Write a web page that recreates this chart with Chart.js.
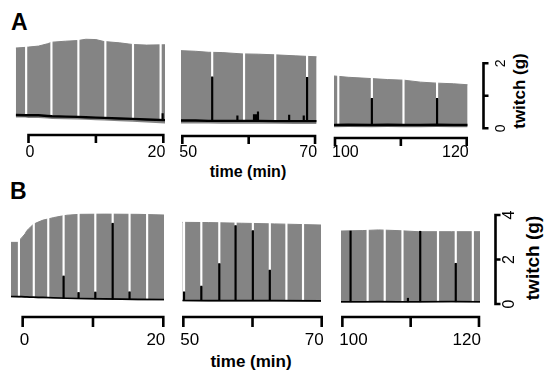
<!DOCTYPE html>
<html>
<head>
<meta charset="utf-8">
<script src="https://cdn.jsdelivr.net/npm/chart.js@4.4.1/dist/chart.umd.min.js"></script>
<style>
  body { margin: 0; background: #fff; }
  #fig { position: relative; width: 550px; height: 381px; overflow: hidden;
         font-family: "Liberation Sans", Arial, sans-serif; color: #000; }
  #fig canvas { position: absolute; left: 0; top: 0; }
  .txt { position: absolute; line-height: 1; white-space: nowrap; font-weight: bold; }
  .rot { transform: translate(-50%, -50%) rotate(-90deg); }
</style>
</head>
<body>
<div id="fig">
  <div class="txt" style="left:11px; top:11px; font-size:23px;">A</div>
  <div class="txt" style="left:10px; top:180px; font-size:23px;">B</div>
  <div class="txt" style="left:148px; top:164px; width:200px; text-align:center; font-size:16px;">time (min)</div>
  <div class="txt" style="left:151px; top:353px; width:200px; text-align:center; font-size:17px;">time (min)</div>
  <div class="txt rot" style="left:519px; top:91px; font-size:17px;">twitch (g)</div>
  <div class="txt rot" style="left:532px; top:258px; font-size:19px;">twitch (g)</div>
</div>
<script>
const GRAY = '#848484';

// panel A: twitch envelope (g) against time (min), three recording windows
const aTime = [-1.9, -0.5, 0, 1.5, 2.8, 3.5, 5.5, 7.3, 8.5, 10, 11.2, 13.5, 15.4, 17.5, 20.25,
               49.8, 52, 53.9, 56, 59, 61.5, 64, 67, 70.25,
               99.85, 102, 105.5, 108, 110.5, 113, 115.5, 118, 120.15];
const aPeak = [2.47, 2.49, 2.50, 2.53, 2.60, 2.65, 2.68, 2.70, 2.74, 2.73, 2.67, 2.63, 2.58, 2.56, 2.57,
               2.39, 2.37, 2.34, 2.33, 2.29, 2.28, 2.26, 2.23, 2.20,
               1.61, 1.57, 1.53, 1.50, 1.48, 1.42, 1.39, 1.37, 1.34];
const aBase = [0.41, 0.40, 0.40, 0.40, 0.38, 0.37, 0.36, 0.35, 0.34, 0.33, 0.32, 0.30, 0.29, 0.27, 0.25,
               0.24, 0.24, 0.23, 0.23, 0.23, 0.23, 0.22, 0.22, 0.22,
               0.10, 0.11, 0.10, 0.11, 0.10, 0.10, 0.11, 0.10, 0.10];
const aLow = [0.33, 0.33, 0.32, 0.32, 0.30, 0.29, 0.28, 0.27, 0.26, 0.25, 0.24, 0.22, 0.20, 0.18, 0.15,
              0.15, 0.15, 0.15, 0.14, 0.14, 0.14, 0.14, 0.13, 0.13,
              0.03, 0.04, 0.03, 0.04, 0.03, 0.03, 0.04, 0.03, 0.03];
// pauses between sweeps (white) and single traces standing out (black)
const aGapTime = [-0.35, 3.4, 7.4, 11.4, 15.5, 19.6, 54.5, 59.3, 64.0, 68.8, 100.5, 105.6, 110.4, 115.5];
const aGapFrom = [0.41, 0.40, 0.35, 0.32, 0.29, 0.26, 1.58, 0.23, 0.22, 1.57, 0.10, 0.92, 0.10, 0.92];
const aMarkTime = [19.9, 54.5, 58.3, 60.8, 61.1, 61.4, 66.1, 68.3, 68.8, 105.6, 115.5];
const aMarkFrom = [0.26, 0.23, 0.23, 0.23, 0.23, 0.23, 0.22, 0.22, 0.22, 0.10, 0.10];
const aMarkTo = [0.45, 1.58, 0.38, 0.42, 0.42, 0.51, 0.41, 0.38, 1.57, 0.92, 0.92];

// panel B
const bTime = [-1.66, -0.55, -0.45, -0.15, 0.33, 0.6, 1.0, 1.5, 2.2, 2.9, 3.6, 4.35, 5.5, 6.3, 8.1, 11.7, 16.4, 20.1,
               49.85, 53.6, 58.4, 63.2, 69.9,
               99.8, 103, 105.3, 108, 111.1, 116, 120.15];
const bPeak = [2.77, 2.77, 2.88, 2.97, 3.15, 3.30, 3.42, 3.58, 3.68, 3.77, 3.82, 3.88, 3.95, 3.99, 4.03, 4.04, 4.03, 4.00,
               3.67, 3.66, 3.63, 3.60, 3.55,
               3.28, 3.30, 3.33, 3.30, 3.25, 3.25, 3.25];
const bBase = [0.34, 0.33, 0.33, 0.33, 0.32, 0.32, 0.31, 0.31, 0.30, 0.30, 0.29, 0.28, 0.27, 0.26, 0.25, 0.23, 0.21, 0.20,
               0.16, 0.15, 0.15, 0.15, 0.14,
               0.10, 0.10, 0.11, 0.10, 0.10, 0.11, 0.10];
const bLow = [0.30, 0.29, 0.29, 0.29, 0.28, 0.28, 0.27, 0.27, 0.26, 0.26, 0.25, 0.24, 0.23, 0.22, 0.21, 0.19, 0.17, 0.16,
              0.12, 0.11, 0.11, 0.11, 0.10,
              0.06, 0.06, 0.07, 0.06, 0.06, 0.07, 0.06];
const bGapTime = [-0.53, 1.58, 3.64, 5.82, 7.95, 10.33, 12.8, 15.2, 17.7,
                  50.1, 52.6, 55.2, 57.55, 60.05, 62.5, 64.9, 67.3,
                  103.7, 106.2, 108.8, 114.0, 116.6, 119.1];
const bGapFrom = [0.34, 0.31, 0.28, 1.26, 0.52, 0.54, 3.63, 0.55, 0.21,
                  0.55, 0.80, 1.82, 3.53, 3.30, 1.53, 0.15, 0.15,
                  0.10, 0.10, 0.10, 0.10, 1.83, 0.10];
const bMarkTime = [5.82, 7.95, 10.33, 12.8, 15.2, 50.1, 52.6, 55.2, 57.55, 60.05, 62.5, 101.2, 109.6, 111.4, 116.6];
const bMarkFrom = [0.26, 0.25, 0.23, 0.22, 0.21, 0.15, 0.15, 0.15, 0.15, 0.15, 0.15, 0.10, 0.10, 0.10, 0.10];
const bMarkTo = [1.26, 0.52, 0.54, 3.63, 0.55, 0.55, 0.80, 1.82, 3.53, 3.30, 1.53, 3.28, 0.26, 3.27, 1.83];

// axis ticks
const xTicks = [[0, 10, 20], [50, 60, 70], [100, 110, 120]];
const xTickLabels = [['0', '', '20'], ['50', '', '70'], ['100', '', '120']];
const aYTicks = [0, 1, 2];
const aYTickLabels = ['0', '', '2'];
const bYTicks = [0, 2, 4];
const bYTickLabels = ['0', '2', '4'];

// bracket style axes, placed with the chart's own scales
const bracketAxes = {
  id: 'bracketAxes',
  afterDraw(chart, args, o) {
    const { ctx, scales: { x, y } } = chart;
    const fam = 'px "Liberation Sans", Arial, sans-serif';
    ctx.save();
    ctx.strokeStyle = '#000';
    ctx.fillStyle = '#000';
    ctx.lineWidth = 2.6;
    ctx.lineJoin = 'miter';

    const ay = o.axisY;
    const px = o.ticks.map(v => x.getPixelForValue(v));
    const n = px.length - 1;
    ctx.beginPath();
    ctx.moveTo(px[0], ay + o.tickLen);
    ctx.lineTo(px[0], ay);
    ctx.lineTo(px[n], ay);
    ctx.lineTo(px[n], ay + o.tickLen);
    for (let i = 1; i < n; i++) {
      ctx.moveTo(px[i], ay);
      ctx.lineTo(px[i], ay + o.tickLen);
    }
    ctx.stroke();

    ctx.font = o.font + fam;
    ctx.textBaseline = 'alphabetic';
    o.labels.forEach((s, i) => {
      if (!s) return;
      ctx.textAlign = i === 0 ? 'left' : (i === n ? 'right' : 'center');
      ctx.fillText(s, px[i] + (i === 0 ? -3 : (i === n ? 2 : 0)), o.labelY);
    });

    if (o.yTicks) {
      const yx = o.yAxisX;
      const py = o.yTicks.map(v => y.getPixelForValue(v));
      const m = py.length - 1;
      ctx.beginPath();
      ctx.moveTo(yx + o.yTickLen, py[m]);
      ctx.lineTo(yx, py[m]);
      ctx.lineTo(yx, py[0]);
      ctx.lineTo(yx + o.yTickLen, py[0]);
      for (let i = 1; i < m; i++) {
        ctx.moveTo(yx, py[i]);
        ctx.lineTo(yx + o.yTickLen, py[i]);
      }
      ctx.stroke();
      ctx.font = o.yFont + fam;
      ctx.textAlign = 'center';
      ctx.textBaseline = 'middle';
      o.yLabels.forEach((s, i) => {
        if (!s) return;
        ctx.save();
        ctx.translate(o.yLabelX, py[i]);
        ctx.rotate(-Math.PI / 2);
        ctx.fillText(s, 0, 0);
        ctx.restore();
      });
    }
    ctx.restore();
  }
};

const panels = [
  { time: aTime, peak: aPeak, base: aBase, low: aLow,
    gapTime: aGapTime, gapFrom: aGapFrom, markTime: aMarkTime, markFrom: aMarkFrom, markTo: aMarkTo,
    yTicks: aYTicks, yLabels: aYTickLabels,
    zeroPx: 128.3, unitPx: 32.5, yMax: 3, baseWidth: 2.4,
    segPx: [[15.7, 165], [181, 316.7], [334, 467.7]],
    axisY: [135, 136, 138], tickLen: 8, labelY: 157, font: 16,
    yAxisX: 483.5, yTickLen: 5, yLabelX: 501, yFont: 14 },
  { time: bTime, peak: bPeak, base: bBase, low: bLow,
    gapTime: bGapTime, gapFrom: bGapFrom, markTime: bMarkTime, markFrom: bMarkFrom, markTo: bMarkTo,
    yTicks: bYTicks, yLabels: bYTickLabels,
    zeroPx: 304, unitPx: 22.25, yMax: 4.5, baseWidth: 1.6,
    segPx: [[11, 164], [182.3, 321], [341, 480]],
    axisY: [317, 317, 317], tickLen: 10, labelY: 345, font: 17,
    yAxisX: 495.5, yTickLen: 5, yLabelX: 510, yFont: 16 }
];

const fig = document.getElementById('fig');

panels.forEach(p => {
  xTicks.forEach((ticks, s) => {
    const lo = ticks[0] - 5, hi = ticks[ticks.length - 1] + 5;
    const inSeg = t => t >= lo && t <= hi;
    const idx = p.time.map((t, i) => i).filter(i => inSeg(p.time[i]));
    const line = arr => idx.map(i => ({ x: p.time[i], y: arr[i] }));
    const gaps = p.gapTime.map((t, i) => ({ x: t, y: [p.gapFrom[i], p.yMax] })).filter(d => inSeg(d.x));
    const marks = p.markTime.map((t, i) => ({ x: t, y: [p.markFrom[i], p.markTo[i]] })).filter(d => inSeg(d.x));
    const last = s === xTicks.length - 1;

    const cv = document.createElement('canvas');
    cv.width = 550;
    cv.height = 381;
    fig.appendChild(cv);

    new Chart(cv, {
      type: 'line',
      data: {
        datasets: [
          { data: line(p.peak), borderColor: GRAY, borderWidth: 1, backgroundColor: GRAY,
            fill: 1, pointRadius: 0, order: 3 },
          { data: line(p.low), borderColor: 'rgba(0,0,0,0)', borderWidth: 1, pointRadius: 0,
            fill: false, order: 4 },
          { type: 'bar', data: gaps, backgroundColor: '#ffffff', barThickness: 1.5,
            grouped: false, order: 2 },
          { type: 'bar', data: marks, backgroundColor: '#000', barThickness: 1.5,
            grouped: false, order: 1 },
          { data: line(p.base), borderColor: '#000', borderWidth: p.baseWidth, pointRadius: 0,
            fill: false, order: 0 }
        ]
      },
      options: {
        responsive: false,
        animation: false,
        devicePixelRatio: 1,
        events: [],
        layout: {
          padding: {
            left: p.segPx[s][0],
            right: 550 - p.segPx[s][1],
            top: p.zeroPx - p.yMax * p.unitPx,
            bottom: 381 - p.zeroPx
          }
        },
        scales: {
          x: { type: 'linear', display: false, offset: false,
               min: p.time[idx[0]], max: p.time[idx[idx.length - 1]] },
          y: { type: 'linear', display: false, min: 0, max: p.yMax }
        },
        plugins: {
          legend: { display: false },
          tooltip: { enabled: false },
          bracketAxes: {
            ticks: ticks, labels: xTickLabels[s],
            axisY: p.axisY[s], tickLen: p.tickLen, labelY: p.labelY, font: p.font,
            yTicks: last ? p.yTicks : null, yLabels: p.yLabels,
            yAxisX: p.yAxisX, yTickLen: p.yTickLen, yLabelX: p.yLabelX, yFont: p.yFont
          }
        }
      },
      plugins: [bracketAxes]
    });
  });
});
</script>
</body>
</html>
